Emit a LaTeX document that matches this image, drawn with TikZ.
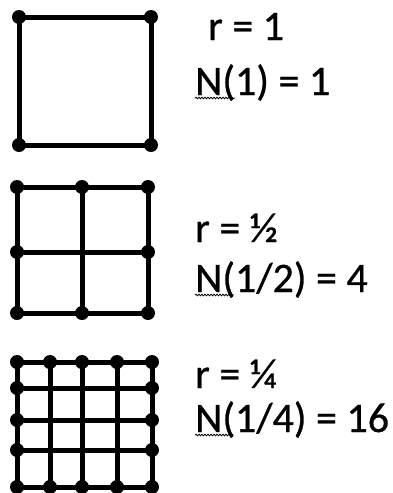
\documentclass[tikz,border=0pt]{standalone}
\usepackage{fontspec}
\setmainfont{Carlito}
\newfontfamily\lblfont{Carlito}[FakeBold=0.7]
\usetikzlibrary{decorations.pathmorphing}
\begin{document}
\begin{tikzpicture}[x=1pt,y=-1pt,
  gridline/.style={line width=5pt,line cap=round,line join=round},
  dot/.style={fill=black},
  lbl/.style={anchor=base west,inner sep=0pt,font=\lblfont\fontsize{42}{50}\selectfont},
  squig/.style={line width=0.8pt,decorate,decoration={snake,segment length=3pt,amplitude=0.8pt}}]
\useasboundingbox (0,0) rectangle (392,493);
% square 1
\draw[gridline] (19,17) rectangle (151,145);
\foreach \p in {(19,17),(151,17),(19,145),(151,145)} \fill[dot] \p circle (7pt);
% square 2
\draw[gridline] (17,187) rectangle (148,313);
\draw[gridline] (82,187) -- (82,313) (17,252) -- (148,252);
\foreach \x in {17,82,148} {\fill[dot] (\x,187) circle (7pt); \fill[dot] (\x,313) circle (7pt);}
\foreach \y in {252} {\fill[dot] (17,\y) circle (7pt); \fill[dot] (148,\y) circle (7pt);}
% square 3
\draw[gridline] (17,362) rectangle (152,487);
\foreach \x in {50,82,117} \draw[gridline] (\x,362) -- (\x,487);
\foreach \y in {388,420,450} \draw[gridline] (17,\y) -- (152,\y);
\foreach \x in {17,50,82,117,152} {\fill[dot] (\x,362) circle (7pt); \fill[dot] (\x,487) circle (7pt);}
\foreach \y in {388,420,450} {\fill[dot] (17,\y) circle (7pt); \fill[dot] (152,\y) circle (7pt);}
% labels
\node[lbl] (r1) at (208,40) {r = 1};
\node[lbl] (n1) at (195,95) {N(1) = 1};
\node[lbl] (r2) at (195,242) {r = ½};
\node[lbl] (n2) at (195,292) {N(1/2) = 4};
\node[lbl] (r3) at (195,388) {r = ¼};
\node[lbl] (n3) at (195,432) {N(1/4) = 16};
\draw[squig] (195,98) -- (235,98);
\draw[squig] (195,295) -- (234,295);
\draw[squig] (195,435) -- (234,435);
\end{tikzpicture}
\end{document}
